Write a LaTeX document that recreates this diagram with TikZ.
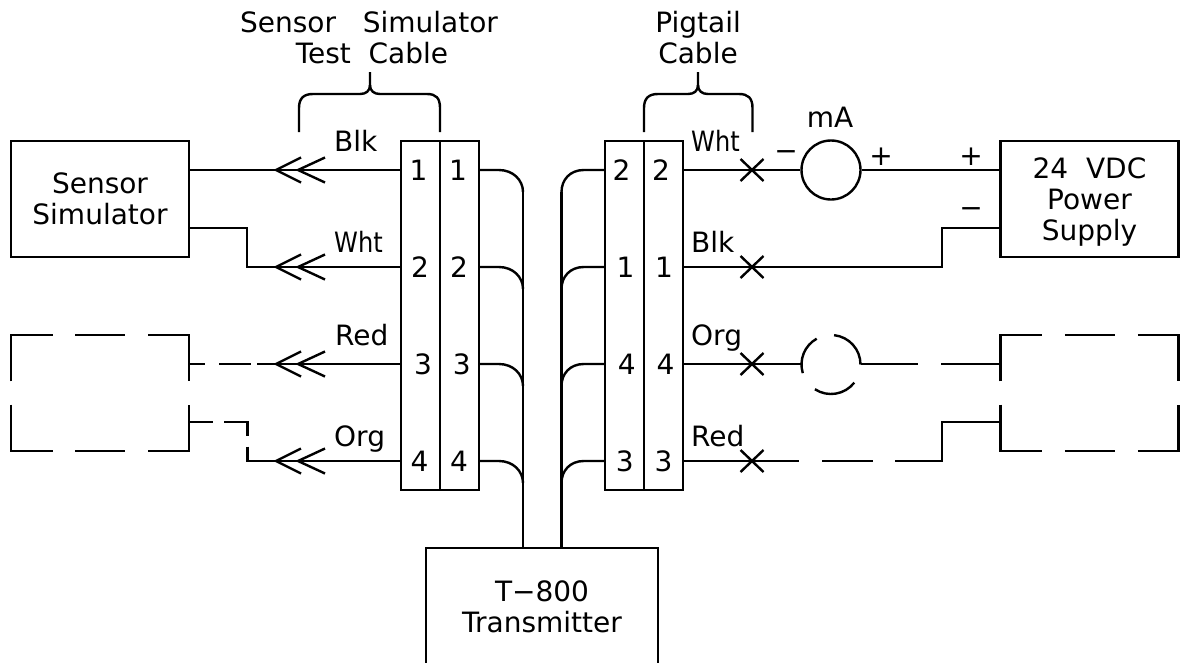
\documentclass[tikz,border=0pt]{standalone}
\usepackage{fontspec}
\setmainfont{DejaVu Sans}
\usetikzlibrary{calc,positioning}
\newcommand{\wht}{\scalebox{.86}[1]{Wht}}
\tikzset{
    wire/.style={line width=2.4pt},
    box/.style={
        draw, rectangle, line width=2.4pt,
        inner sep=0pt, text=black, align=center
    },
    lbl/.style={inner sep=0pt, anchor=base west},
    num/.style={inner sep=0pt, anchor=base},
    sign/.style={inner sep=0pt, anchor=center}
}

\begin{document}
\begin{tikzpicture}[
        x=1pt, y=-1pt,
        font=\fontsize{28}{31}\selectfont,
        ghost/.style={rectangle, minimum width=178pt, minimum height=116pt, inner sep=0pt, outer sep=0pt},
        gapped/.style={wire, dash pattern=on 88.3pt off 22.4pt on 50pt off 23pt on 88.3pt},
        wire
      ]
  \useasboundingbox (0,0) rectangle (1182,662);

  % rows of the terminal blocks
  \coordinate (r1) at (0,170);
  \coordinate (r2) at (0,267);
  \coordinate (r3) at (0,364);
  \coordinate (r4) at (0,461);
  \coordinate (lo1) at (0,228);
  \coordinate (lo2) at (0,422);
  \coordinate (busL) at (523,192);
  \coordinate (busR) at (561.5,192);

  \node[box,minimum width=178pt,minimum height=116pt] (simulator) at (100,199) {Sensor\\Simulator};
  \node[box,minimum width=178pt,minimum height=116pt,text depth=0pt] (supply) at (1089.5,199) {24\ \ VDC\\Power\\Supply};
  \node[ghost] (simulator2) at (100,393) {};
  \node[ghost] (supply2) at (1089.5,393) {};
  \node[box,minimum width=232pt,minimum height=117pt] (xmtr) at (542,606.5) {T−800\\Transmitter};

  \node[box,minimum width=39pt,minimum height=349pt] (A) at (420.5,315.5) {};
  \node[box,minimum width=38.5pt,minimum height=349pt] (B) at (459.5,315.5) {};
  \node[box,minimum width=39pt,minimum height=349pt] (C) at (624.5,315.5) {};
  \node[box,minimum width=39pt,minimum height=349pt] (D) at (663.5,315.5) {};

  \node[circle,draw,minimum size=59pt,inner sep=0pt] (mA) at (831,170) {};
  \node[circle,minimum size=59pt,inner sep=0pt,outer sep=0pt] (mA2) at (831,364.5) {};

  % pin numbers
  \foreach \n/\xa/\xb/\y in {1/418.6/458/180, 2/420/459/277, 3/423/461.7/374, 4/419.6/459/471} {
    \node[num] (a\n) at (\xa,\y) {\n};
    \node[num] (b\n) at (\xb,\y) {\n};
  }
  \foreach \n/\xa/\xb/\y in {2/621.5/661/180, 1/625.5/664/277, 4/626.7/665.5/374, 3/624.7/663.6/471} {
    \node[num] (c\n) at (\xa,\y) {\n};
    \node[num] (d\n) at (\xb,\y) {\n};
  }

  % wire colours
  \foreach \name/\t/\x/\y in {w1/Blk/333/151, w2/\wht/333/252, w3/Red/334/345, w4/Org/333/446,
                              w5/\wht/690/151, w6/Blk/690/252, w7/Org/690/345, w8/Red/690/446}
    \node[lbl] (\name) at (\x,\y) {\t};

  \node[num] (t1) at (369,32) {Sensor\ \ \ Simulator};
  \node[num] (t2) at (372,63) {Test\ \ Cable};
  \node[num] (t3) at (698,32) {Pigtail};
  \node[num] (t4) at (698,63) {Cable};
  \node[num] (t5) at (830,127) {mA};

  \node[sign] (s1) at (786,156) {−};
  \node[sign] (s2) at (881,157) {+};
  \node[sign] (s3) at (971,157) {+};
  \node[sign] (s4) at (971,213) {−};

  % dashed boxes
  \draw[gapped] ($(simulator2.west)+(0,-11.6)$) -- (simulator2.north west) -- (simulator2.north east) -- ($(simulator2.east)+(0,-11.6)$);
  \draw[gapped] ($(simulator2.west)+(0,11.6)$) -- (simulator2.south west) -- (simulator2.south east) -- ($(simulator2.east)+(0,11.6)$);
  \draw[gapped] ($(supply2.west)+(0,-11.6)$) -- (supply2.north west) -- (supply2.north east) -- ($(supply2.east)+(0,-11.6)$);
  \draw[gapped] ($(supply2.west)+(0,11.6)$) -- (supply2.south west) -- (supply2.south east) -- ($(supply2.east)+(0,11.6)$);

  % left side wires
  \draw (simulator.east |- r1) -- (A.west |- r1);
  \draw (simulator.east |- lo1) -| (247,267) -- (A.west |- r2);
  \draw (simulator2.east |- r3) -- (205,364);
  \draw (219,364) -- (251,364);
  \draw (257,364) -- (A.west |- r3);
  \draw (simulator2.east |- lo2) -- (212.5,422);
  \draw (224,422) -| (247.5,436);
  \draw (247.5,446.7) |- (A.west |- r4);

  % plugs
  \foreach \y in {170,267,364,461} {
    \draw (301,\y-12.5) -- (276,\y) -- (301,\y+12.5);
    \draw (325,\y-12.5) -- (298,\y) -- (325,\y+12.5);
  }

  % into the transmitter
  \foreach \r in {r1,r2,r3,r4} {
    \draw (B.east |- \r) -- ++(19,0) .. controls +(14,0) and +(0,-12) .. ($(busL |- \r)+(0,22)$);
    \draw (C.west |- \r) -- ++(-20,0) .. controls +(-14,0) and +(0,-12) .. ($(busR |- \r)+(0,22)$);
  }
  \draw (busL) -- (busL |- xmtr.north);
  \draw (busR) -- (busR |- xmtr.north);

  % right side wires
  \draw (D.east |- r1) -- (mA.west);
  \draw (mA.east) -- (supply.west |- r1);
  \draw (D.east |- r2) -| (942,228) -- (supply.west |- lo1);
  \draw (D.east |- r3) -- (mA2.west |- r3);
  \draw (mA2.east |- r3) -- (917.5,364);
  \draw (941,364) -- (supply2.west |- r3);
  \draw (D.east |- r4) -- (799,461);
  \draw (822,461) -- (872.7,461);
  \draw (895,461) -| (942,422) -- (supply2.west |- lo2);

  \draw (mA2) ++(-119:29.5) arc[start angle=-119,end angle=-197,radius=29.5];
  \draw (mA2) ++(-84:29.5) arc[start angle=-84,end angle=0,radius=29.5];
  \draw (mA2) ++(-237:29.5) arc[start angle=-237,end angle=-322,radius=29.5];

  % crosses
  \foreach \y in {170,267,364,461} {
    \draw (740.5,\y-11) -- (763.5,\y+11);
    \draw (740.5,\y+11) -- (763.5,\y-11);
  }

  % braces
  \draw (299,132) -- (299,108) .. controls (299,98) and (304,94) .. (313,94) -- (360,94) .. controls (366,94) and (370,91) .. (370,85) -- (370,72);
  \draw (370,85) .. controls (370,91) and (374,94) .. (380,94) -- (427,94) .. controls (436,94) and (440,98) .. (440,108) -- (440,132);
  \draw (644,132) -- (644,108) .. controls (644,98) and (649,94) .. (658,94) -- (688,94) .. controls (694,94) and (698,91) .. (698,85) -- (698,72);
  \draw (698,85) .. controls (698,91) and (702,94) .. (708,94) -- (739,94) .. controls (748,94) and (752.5,98) .. (752.5,108) -- (752.5,132);

\end{tikzpicture}
\end{document}
